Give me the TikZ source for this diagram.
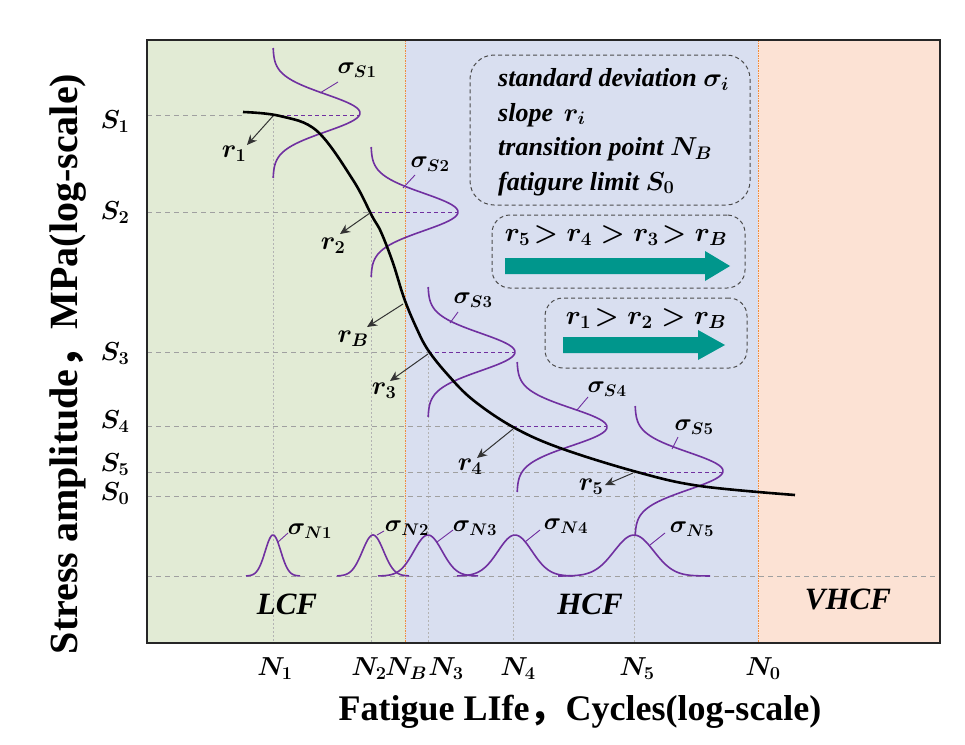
\documentclass[tikz,border=0pt]{standalone}
\usepackage{fix-cm}
\usepackage{fontspec}
\setmainfont{Liberation Serif}
\newfontfamily\cjk{Noto Sans CJK SC}
\usetikzlibrary{arrows.meta}
\definecolor{lcfgreen}{RGB}{226,235,213}
\definecolor{hcfblue}{RGB}{217,223,240}
\definecolor{vhcfpeach}{RGB}{252,226,212}
\definecolor{distpurple}{RGB}{112,48,160}
\definecolor{fatteal}{RGB}{0,150,140}
\definecolor{bordorange}{RGB}{240,140,60}
\definecolor{gridgray}{RGB}{160,160,160}
\newcommand\nbell[3]{\draw[dist] plot[domain=-#3:#3,samples=70,smooth] ({#1+\x},{576-41*exp(-(\x/#2)*(\x/#2))});}
\newcommand\sbell[4]{\draw[dist] plot[domain=-65:65,samples=80,smooth] ({#1+#3*exp(-(\x/#4)*(\x/#4))},{#2+\x});}
\tikzset{
  dist/.style={distpurple, line width=1.6pt},
  distdash/.style={distpurple, dashed, line width=0.9pt, dash pattern=on 4pt off 3pt},
  hgrid/.style={gridgray, line width=0.9pt, dash pattern=on 5pt off 4pt},
  vgrid/.style={gridgray!80, line width=0.7pt, dash pattern=on 2pt off 2pt},
  zoneline/.style={bordorange, line width=0.9pt, dash pattern=on 1.5pt off 1pt},
  slopearrow/.style={-{Stealth[length=10pt,width=9pt]}, line width=1pt, black!80},
  leader/.style={distpurple, line width=0.9pt},
  mlab/.style={font=\fontsize{26}{26}\selectfont\boldmath, inner sep=0pt},
  rlab/.style={font=\fontsize{26}{26}\selectfont\boldmath, inner sep=0pt},
  ineq/.style={font=\fontsize{27}{27}\selectfont\boldmath, inner sep=0pt},
  siglab/.style={font=\fontsize{24}{24}\selectfont\boldmath, inner sep=0pt},
  zonelab/.style={font=\fontsize{31}{31}\selectfont\bfseries\itshape, inner sep=0pt},
  dashbox/.style={draw=black!70, line width=1pt, dash pattern=on 4pt off 3pt, rounded corners=24pt}
}
\begin{document}
\begin{tikzpicture}[x=1pt,y=-1pt]
\useasboundingbox (0,0) rectangle (965,744);
\fill[white] (0,0) rectangle (965,744);
% zones
\fill[lcfgreen] (147,40) rectangle (405,643);
\fill[hcfblue] (405,40) rectangle (758,643);
\fill[vhcfpeach] (758,40) rectangle (940,643);
\draw[zoneline] (405,40) -- (405,643);
\draw[zoneline] (758,40) -- (758,643);
% vertical grid
\draw[vgrid] (273,115) -- (273,643);
\draw[vgrid] (371,212) -- (371,643);
\draw[vgrid] (428,352) -- (428,643);
\draw[vgrid] (513,426) -- (513,643);
\draw[vgrid] (634,472) -- (634,643);
% horizontal grid
\draw[hgrid] (147,115) -- (243,115);
\draw[hgrid] (147,212) -- (371,212);
\draw[hgrid] (147,352) -- (428,352);
\draw[hgrid] (147,426) -- (513,426);
\draw[hgrid] (147,472) -- (635,472);
\draw[hgrid] (147,496) -- (760,496);
\draw[hgrid] (147,576) -- (940,576);
% purple dashed to peaks
\draw[distdash] (280,115) -- (360,115);
\draw[distdash] (371,212) -- (458,212);
\draw[distdash] (428,352) -- (515,352);
\draw[distdash] (513,426) -- (607,426);
\draw[distdash] (635,472) -- (723,472);
% frame
\draw[black!85, line width=2pt] (147,40) rectangle (940,643);
% S distributions
\sbell{273}{113}{87}{26.5}
\sbell{371}{212}{87}{26.5}
\sbell{428}{352}{87}{26.5}
\sbell{517}{427}{90}{26.5}
\sbell{635}{471}{88}{26.5}
% N distributions
\nbell{273}{11}{27}
\nbell{373}{15}{36}
\nbell{428}{20}{50}
\nbell{515}{24}{58}
\nbell{634}{28}{76}
% S-N curve
\draw[black, line width=2.6pt] plot[smooth, tension=0.6] coordinates {(243,112) (280,116) (317,131) (353,180) (372,216) (381,232) (393,263) (404,298) (416,327) (428,350) (448,375) (473,400) (513,427) (560,448) (637,472) (700,486) (795,495)};
% slope arrows
\coordinate (c1) at (273,116); \coordinate (e1) at (247,145);
\coordinate (c2) at (370,213); \coordinate (e2) at (340,234);
\coordinate (cB) at (403,304); \coordinate (eB) at (367,327);
\coordinate (c3) at (428,354); \coordinate (e3) at (390,381);
\coordinate (c4) at (513,429); \coordinate (e4) at (477,458);
\coordinate (c5) at (633,473); \coordinate (e5) at (605,485);
\draw[slopearrow] (c1) -- (e1);
\draw[slopearrow] (c2) -- (e2);
\draw[slopearrow] (cB) -- (eB);
\draw[slopearrow] (c3) -- (e3);
\draw[slopearrow] (c4) -- (e4);
\draw[slopearrow] (c5) -- (e5);
\node[rlab] (r1) at (234,154) {$r_1$};
\node[rlab] (r2) at (333,246) {$r_2$};
\node[rlab] (rB) at (353,339) {$r_B$};
\node[rlab] (r3) at (384,391) {$r_3$};
\node[rlab] (r4) at (470,467) {$r_4$};
\node[rlab] (r5) at (591,487) {$r_5$};
% sigma labels and leaders
\node[siglab] (sS1) at (357,70) {$\sigma_{S1}$};
\node[siglab] (sS2) at (430,164) {$\sigma_{S2}$};
\node[siglab] (sS3) at (473,300) {$\sigma_{S3}$};
\node[siglab] (sS4) at (607,389) {$\sigma_{S4}$};
\node[siglab] (sS5) at (694,427) {$\sigma_{S5}$};
\node[siglab] (sN1) at (310,531) {$\sigma_{N1}$};
\node[siglab] (sN2) at (407,528) {$\sigma_{N2}$};
\node[siglab] (sN3) at (475,528) {$\sigma_{N3}$};
\node[siglab] (sN4) at (566,526) {$\sigma_{N4}$};
\node[siglab] (sN5) at (692,529) {$\sigma_{N5}$};
\coordinate (lS1) at (320,93); \draw[leader] (lS1) -- (338,82);
\coordinate (lS2) at (403,188); \draw[leader] (lS2) -- (415,175);
\coordinate (lS3) at (450,323); \draw[leader] (lS3) -- (458,312);
\coordinate (lS4) at (577,410); \draw[leader] (lS4) -- (588,397);
\coordinate (lS5) at (672,449); \draw[leader] (lS5) -- (678,437);
\coordinate (lN1) at (278,542); \draw[leader] (lN1) -- (288,533);
\coordinate (lN2) at (377,535); \draw[leader] (lN2) -- (384,531);
\coordinate (lN3) at (437,542); \draw[leader] (lN3) -- (453,530);
\coordinate (lN4) at (525,542); \draw[leader] (lN4) -- (540,530);
\coordinate (lN5) at (650,545); \draw[leader] (lN5) -- (665,533);
% info boxes
\node[dashbox, minimum width=280pt, minimum height=150pt] (info) at (610,130) {};
\node[font=\fontsize{26}{34.5}\selectfont\bfseries\itshape\boldmath, align=left, anchor=west, inner sep=0pt] (infotext) at (498,132)
 {standard deviation $\sigma_i$\\ slope\, $r_i$\\ transition point $N_B$\\ fatigure limit $S_0$};
\node[dashbox, rounded corners=18pt, minimum width=253pt, minimum height=73pt] (box2) at (618.5,251.5) {};
\node[ineq] (ineq1) at (616,236) {$r_5\!>r_4>r_3\!>r_B$};
\fill[fatteal] (505,258) -- (705,258) -- (705,251) -- (730,266) -- (705,281) -- (705,274) -- (505,274) -- cycle;
\node[dashbox, rounded corners=18pt, minimum width=202pt, minimum height=70pt] (box3) at (646,333) {};
\node[ineq] (ineq2) at (646,319) {$r_1\!>r_2>r_B$};
\fill[fatteal] (563,337) -- (698,337) -- (698,330) -- (725,345) -- (698,360) -- (698,353) -- (563,353) -- cycle;
% zone labels
\node[zonelab] (lcf) at (287,604) {LCF};
\node[zonelab] (hcf) at (590,604) {HCF};
\node[zonelab] (vhcf) at (848,599) {VHCF};
% axis tick labels
\node[mlab] (S1) at (115,122) {$S_1$};
\node[mlab] (S2) at (115,213) {$S_2$};
\node[mlab] (S3) at (115,354) {$S_3$};
\node[mlab] (S4) at (115,422) {$S_4$};
\node[mlab] (S5) at (115,465) {$S_5$};
\node[mlab] (S0) at (115,494) {$S_0$};
\node[mlab] (N1) at (275,669) {$N_1$};
\node[mlab] (N2) at (369,669) {$N_2$};
\node[mlab] (NB) at (406,669) {$N_B$};
\node[mlab] (N3) at (446,669) {$N_3$};
\node[mlab] (N4) at (518,669) {$N_4$};
\node[mlab] (N5) at (637,669) {$N_5$};
\node[mlab] (N0) at (763,669) {$N_0$};
% axis titles
\node[font=\fontsize{36}{36}\selectfont\bfseries, inner sep=0pt] (xtitle) at (580,712) {Fatigue LIfe{\cjk ，}Cycles(log-scale)};
\node[font=\fontsize{40}{40}\selectfont\bfseries, inner sep=0pt, rotate=90] (ytitle) at (68,364) {Stress amplitude{\cjk ，}MPa(log-scale)};
\end{tikzpicture}
\end{document}
